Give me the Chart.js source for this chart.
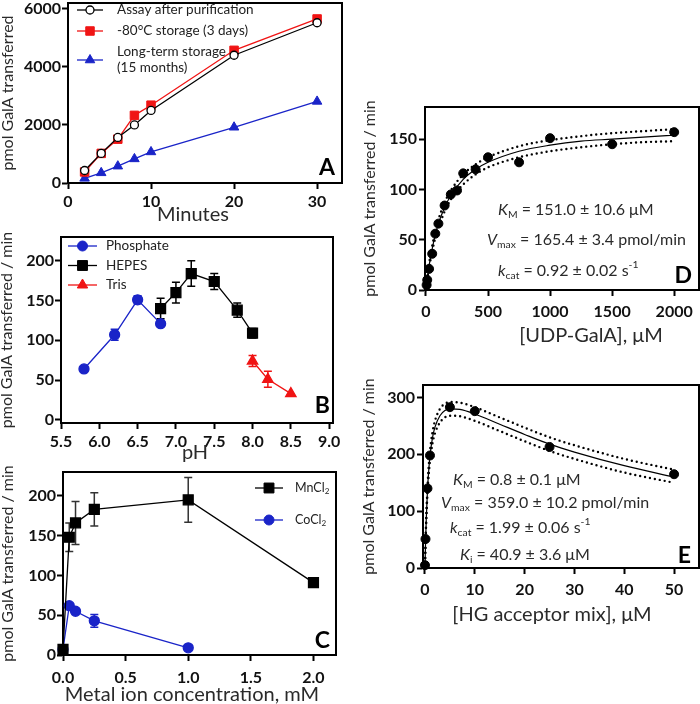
<!DOCTYPE html>
<html>
<head>
<meta charset="utf-8">
<script src="https://cdn.jsdelivr.net/npm/chart.js@4.4.1/dist/chart.umd.min.js"></script>
<style>
  html, body { margin: 0; padding: 0; background: #fff; }
  #wrap { position: relative; width: 700px; height: 704px; overflow: hidden; background: #fff; }
  #wrap canvas { position: absolute; }
</style>
</head>
<body>
<div id="wrap">
  <canvas id="chartA"></canvas>
  <canvas id="chartB"></canvas>
  <canvas id="chartC"></canvas>
  <canvas id="chartD"></canvas>
  <canvas id="chartE"></canvas>
</div>
<script>
// Panel A - time course (minutes vs pmol)
const aMinutes = [2, 4, 6, 8, 10, 20, 30];
const aFresh = [430, 1020, 1570, 2000, 2500, 4400, 5520];
const aFrozen = [380, 1020, 1510, 2330, 2680, 4570, 5650];
const aLongTerm = [160, 350, 580, 830, 1070, 1920, 2810];
const aXTicks = [0, 10, 20, 30];
const aYTicks = [0, 2000, 4000, 6000];

// Panel B - pH profile
const bPhosphatePH = [5.8, 6.2, 6.5, 6.8];
const bPhosphate = [64, 107, 151, 121];
const bPhosphateErr = [2, 7, 5, 2];
const bHepesPH = [6.8, 7.0, 7.2, 7.5, 7.8, 8.0];
const bHepes = [140, 160, 184, 174, 138, 109];
const bHepesErr = [13, 13, 16, 10, 9, 6];
const bTrisPH = [8.0, 8.2, 8.5];
const bTris = [74, 51, 33];
const bTrisErr = [7, 10, 0];
const bXTicks = [5.5, 6.0, 6.5, 7.0, 7.5, 8.0, 8.5, 9.0];
const bYTicks = [0, 50, 100, 150, 200];

// Panel C - metal ions
const cMnConc = [0, 0.05, 0.1, 0.25, 1.0, 2.0];
const cMn = [7, 148, 166, 183, 195, 91];
const cMnErr = [0, 18, 27, 21, 28, 5];
const cCoConc = [0, 0.05, 0.1, 0.25, 1.0];
const cCo = [7, 62, 55, 43, 9];
const cCoErr = [0, 2, 2, 8, 2];
const cXTicks = [0, 0.5, 1.0, 1.5, 2.0];
const cYTicks = [0, 50, 100, 150, 200];

// Panel D - UDP-GalA kinetics
const dConc = [5, 10, 25, 50, 75, 100, 150, 200, 250, 300, 400, 500, 750, 1000, 1500, 2000];
const dRate = [5, 10, 21, 36, 56, 66, 84, 95, 99, 116, 120, 132, 127, 151, 145, 157];
const dFitConc = [0, 10, 25, 50, 75, 100, 150, 200, 300, 400, 500, 750, 1000, 1250, 1500, 1750, 2000];
const dFit = [0, 10, 24, 41, 55, 66, 82, 94, 110, 120, 127, 138, 144, 148, 150, 152, 154];
const dFitHigh = [0, 11, 26, 44, 58, 70, 87, 99, 115, 125, 132, 143, 149, 153, 156, 158, 160];
const dFitLow = [0, 9, 22, 38, 52, 62, 78, 90, 105, 115, 122, 132, 138, 142, 145, 147, 148];
const dXTicks = [0, 500, 1000, 1500, 2000];
const dYTicks = [0, 50, 100, 150];

// Panel E - HG acceptor kinetics
const eConc = [0, 0.1, 0.5, 1, 5, 10, 25, 50];
const eRate = [5, 51, 140, 198, 283, 276, 213, 165];
const eFitConc = [0, 0.1, 0.25, 0.5, 0.75, 1, 1.5, 2, 3, 4, 5, 7, 10, 15, 20, 25, 30, 40, 50];
const eFit = [0, 40, 85, 137, 172, 197, 229, 248, 268, 277, 280, 279, 271, 253, 235, 218, 204, 180, 160];
const eFitHigh = [0, 42, 89, 143, 180, 206, 239, 259, 280, 289, 292, 291, 283, 265, 247, 230, 216, 192, 173];
const eFitLow = [0, 38, 81, 131, 164, 188, 219, 237, 256, 265, 268, 267, 259, 241, 223, 206, 192, 168, 150];
const eXTicks = [0, 10, 20, 30, 40, 50];
const eYTicks = [0, 100, 200, 300];

const BLUE = '#1a24c8', RED = '#f01414';
const tickFont = {family: 'Lato', size: 16, weight: 'bold'};
const yTitleFont = {family: 'Lato', size: 16};

function xy(xs, ys) { return xs.map((x, i) => ({x, y: ys[i]})); }

// text with *italic*, _{sub} and ^{sup}
function parseRich(str) {
  const parts = [];
  let buf = '', italic = false, i = 0;
  const flush = () => { if (buf) parts.push({t: buf, italic, shift: 0}); buf = ''; };
  while (i < str.length) {
    const c = str[i];
    if (c === '*') { flush(); italic = !italic; i++; }
    else if ((c === '_' || c === '^') && str[i + 1] === '{') {
      flush();
      const end = str.indexOf('}', i);
      parts.push({t: str.slice(i + 2, end), italic: false, shift: c === '_' ? 1 : -1});
      i = end + 1;
    } else { buf += c; i++; }
  }
  flush();
  return parts;
}

function drawRich(ctx, str, x, y, o) {
  const size = o.size || 16, wt = o.weight || 'normal';
  const parts = parseRich(str);
  const fontOf = p => (p.italic ? 'italic ' : '') + wt + ' ' + (p.shift ? size * 0.65 : size) + 'px Lato';
  ctx.save();
  ctx.fillStyle = o.color || '#222';
  ctx.textBaseline = o.baseline || 'middle';
  ctx.textAlign = 'left';
  let w = 0;
  parts.forEach(p => { ctx.font = fontOf(p); p.w = ctx.measureText(p.t).width; w += p.w; });
  let cx = o.align === 'center' ? x - w / 2 : o.align === 'right' ? x - w : x;
  parts.forEach(p => {
    ctx.font = fontOf(p);
    const dy = p.shift > 0 ? 0.3 * size : p.shift < 0 ? -0.38 * size : 0;
    ctx.fillText(p.t, cx, y + dy);
    cx += p.w;
  });
  ctx.restore();
}

// box around the plot area
const frame = {
  id: 'frame',
  beforeDatasetsDraw(chart) {
    const a = chart.chartArea, ctx = chart.ctx;
    ctx.save();
    ctx.strokeStyle = '#000';
    ctx.lineWidth = 2;
    ctx.strokeRect(a.left, a.top, a.right - a.left, a.bottom - a.top);
    ctx.restore();
  }
};

// vertical error bars from dataset.errors
const errorBars = {
  id: 'errorBars',
  beforeDatasetsDraw(chart) {
    const ctx = chart.ctx;
    chart.data.datasets.forEach((ds, i) => {
      if (!ds.errors) return;
      const meta = chart.getDatasetMeta(i);
      const ys = chart.scales[meta.yAxisID];
      ctx.save();
      ctx.strokeStyle = ds.errorColor || ds.borderColor;
      ctx.lineWidth = 1.5;
      meta.data.forEach((pt, j) => {
        const e = ds.errors[j];
        if (!e) return;
        const v = ds.data[j].y;
        const top = ys.getPixelForValue(v + e), bot = ys.getPixelForValue(v - e);
        ctx.beginPath();
        ctx.moveTo(pt.x, top); ctx.lineTo(pt.x, bot);
        ctx.moveTo(pt.x - 4, top); ctx.lineTo(pt.x + 4, top);
        ctx.moveTo(pt.x - 4, bot); ctx.lineTo(pt.x + 4, bot);
        ctx.stroke();
      });
      ctx.restore();
    });
  }
};

// legend drawn inside the plot area (line + marker + text)
const insideLegend = {
  id: 'insideLegend',
  afterDraw(chart, args, o) {
    if (o.dx == null) return;
    const ctx = chart.ctx, a = chart.chartArea;
    const x0 = a.left + o.dx;
    let y = a.top + o.dy;
    chart.data.datasets.forEach(ds => {
      if (!ds.label) return;
      const lines = ds.label.split('\n');
      const cy = y + (lines.length - 1) * o.lineH / 2;
      ctx.save();
      ctx.strokeStyle = ds.borderColor;
      ctx.lineWidth = ds.borderWidth;
      ctx.beginPath(); ctx.moveTo(x0, cy); ctx.lineTo(x0 + o.sample, cy); ctx.stroke();
      ctx.fillStyle = ds.pointBackgroundColor || ds.borderColor;
      ctx.strokeStyle = ds.pointBorderColor || ds.borderColor;
      ctx.lineWidth = ds.pointBorderWidth || 1;
      const px = x0 + o.sample / 2;
      if (Chart.helpers && Chart.helpers.drawPoint) {
        Chart.helpers.drawPoint(ctx, {pointStyle: ds.pointStyle, radius: ds.pointRadius, rotation: 0, borderWidth: ctx.lineWidth}, px, cy);
      } else {
        ctx.beginPath(); ctx.arc(px, cy, ds.pointRadius, 0, Math.PI * 2); ctx.fill(); ctx.stroke();
      }
      ctx.restore();
      lines.forEach((ln, k) => drawRich(ctx, ln, x0 + o.sample + o.gap, y + k * o.lineH, {size: o.size, color: '#222'}));
      y += o.rowH + (lines.length - 1) * o.lineH;
    });
  }
};

// free texts: axis titles, fit parameters, panel letters
const panelText = {
  id: 'panelText',
  afterDraw(chart, args, o) {
    const a = chart.chartArea, ctx = chart.ctx;
    (o.items || []).forEach(it => {
      const x = (it.from[1] === 'l' ? a.left : a.right) + it.dx;
      const y = (it.from[0] === 't' ? a.top : a.bottom) + it.dy;
      drawRich(ctx, it.text, x, y, it);
    });
  }
};

function axis(spec, size) {
  return {
    type: 'linear', min: spec.min, max: spec.max,
    afterBuildTicks: s => { s.ticks = spec.ticks.map(v => ({value: v})); },
    afterFit: s => {
      if (s.isHorizontal()) s.height = size; else s.width = size;
      s.paddingTop = s.paddingBottom = s.paddingLeft = s.paddingRight = 0;
    },
    border: {display: true, color: '#000', width: 2},
    grid: {display: true, drawOnChartArea: false, drawTicks: true, tickLength: 6, tickWidth: 2, tickColor: '#000'},
    ticks: {color: '#111', font: tickFont, padding: spec.pad, autoSkip: false, maxRotation: 0,
      callback: v => spec.dec ? v.toFixed(spec.dec) : String(v)},
    title: {display: !!spec.title, text: spec.title || '', font: yTitleFont, color: '#2a2a2a', padding: 0}
  };
}

function makeChart(id, box, area, spec) {
  const cv = document.getElementById(id);
  cv.width = box.w; cv.height = box.h;
  cv.style.left = box.x + 'px'; cv.style.top = box.y + 'px';
  return new Chart(cv, {
    type: 'scatter',
    data: {datasets: spec.datasets.map(d => Object.assign({clip: false}, d))},
    options: {
      responsive: false, animation: false, events: [],
      layout: {autoPadding: false, padding: {left: 0, top: area.t - box.y, right: box.x + box.w - area.r, bottom: 0}},
      scales: {
        x: axis(spec.x, box.y + box.h - area.b),
        y: axis(spec.y, area.l - box.x)
      },
      plugins: {
        legend: {display: false}, tooltip: {enabled: false},
        insideLegend: spec.legend || {},
        panelText: {items: spec.texts || []}
      }
    },
    plugins: [frame, errorBars, insideLegend, panelText]
  });
}

const yTitle = 'pmol GalA transferred / min';
const letter = (t, dx, dy) => ({text: t, from: 'br', dx, dy, size: 23, weight: 'bold', align: 'right', baseline: 'alphabetic', color: '#000'});
const xTitle = (t, dx, dy) => ({text: t, from: 'bl', dx, dy, size: 20, align: 'center', color: '#2a2a2a'});
const fitText = (t, dx, dy) => ({text: t, from: 'tl', dx, dy, size: 16, color: '#2a2a2a'});

// A
makeChart('chartA', {x: -2, y: 0, w: 352, h: 232}, {l: 68, t: 3, r: 342, b: 183}, {
  x: {min: 0, max: 33, ticks: aXTicks, pad: 3},
  y: {min: 0, max: 6200, ticks: aYTicks, pad: 1, title: 'pmol GalA transferred'},
  datasets: [
    {label: 'Assay after purification', data: xy(aMinutes, aFresh), showLine: true, borderColor: '#000', borderWidth: 1.3,
      pointStyle: 'circle', pointRadius: 4, pointBackgroundColor: '#fff', pointBorderColor: '#000', pointBorderWidth: 1.3},
    {label: '-80°C storage (3 days)', data: xy(aMinutes, aFrozen), showLine: true, borderColor: RED, borderWidth: 1.3,
      pointStyle: 'rect', pointRadius: 6, pointBackgroundColor: RED, pointBorderColor: RED, pointBorderWidth: 1},
    {label: 'Long-term storage\n(15 months)', data: xy(aMinutes, aLongTerm), showLine: true, borderColor: BLUE, borderWidth: 1.3,
      pointStyle: 'triangle', pointRadius: 5.5, pointBackgroundColor: BLUE, pointBorderColor: BLUE, pointBorderWidth: 1}
  ],
  legend: {dx: 9, dy: 7, sample: 26, gap: 14, rowH: 21, lineH: 16, size: 13.5},
  texts: [xTitle('Minutes', 125, 32), letter('A', -7, -8)]
});

// B
makeChart('chartB', {x: -3, y: 222, w: 348, h: 248}, {l: 61, t: 237, r: 333, b: 423}, {
  x: {min: 5.5, max: 9.05, ticks: bXTicks, pad: 3, dec: 1},
  y: {min: -4, max: 230, ticks: bYTicks, pad: 1, title: yTitle},
  datasets: [
    {label: 'Phosphate', data: xy(bPhosphatePH, bPhosphate), errors: bPhosphateErr, showLine: true, borderColor: BLUE, borderWidth: 1.3,
      pointStyle: 'circle', pointRadius: 5, pointBackgroundColor: BLUE, pointBorderColor: BLUE},
    {label: 'HEPES', data: xy(bHepesPH, bHepes), errors: bHepesErr, showLine: true, borderColor: '#000', borderWidth: 1.3,
      pointStyle: 'rect', pointRadius: 7, pointBackgroundColor: '#000', pointBorderColor: '#000'},
    {label: 'Tris', data: xy(bTrisPH, bTris), errors: bTrisErr, showLine: true, borderColor: RED, borderWidth: 1.3,
      pointStyle: 'triangle', pointRadius: 6, pointBackgroundColor: RED, pointBorderColor: RED}
  ],
  legend: {dx: 7, dy: 9, sample: 29, gap: 9, rowH: 19.5, lineH: 16, size: 13.5},
  texts: [xTitle('pH', 134, 30), letter('B', -3, -10)]
});

// C
makeChart('chartC', {x: -2, y: 460, w: 347, h: 248}, {l: 63, t: 472, r: 336, b: 655}, {
  x: {min: 0, max: 2.18, ticks: cXTicks, pad: 7, dec: 1},
  y: {min: 0, max: 230, ticks: cYTicks, pad: 1, title: yTitle},
  datasets: [
    {label: 'MnCl_{2}', data: xy(cMnConc, cMn), errors: cMnErr, errorColor: '#333', showLine: true, borderColor: '#000', borderWidth: 1.3,
      pointStyle: 'rect', pointRadius: 7, pointBackgroundColor: '#000', pointBorderColor: '#000'},
    {label: 'CoCl_{2}', data: xy(cCoConc, cCo), errors: cCoErr, showLine: true, borderColor: BLUE, borderWidth: 1.3,
      pointStyle: 'circle', pointRadius: 5, pointBackgroundColor: BLUE, pointBorderColor: BLUE}
  ],
  legend: {dx: 192, dy: 16, sample: 28, gap: 12, rowH: 32, lineH: 16, size: 12.5},
  texts: [xTitle('Metal ion concentration, mM', 129, 40), letter('C', -6, -7)]
});

const fitLine = (xs, ys) => ({data: xy(xs, ys), showLine: true, borderColor: '#000', borderWidth: 1.2, pointRadius: 0, cubicInterpolationMode: 'monotone'});
const bandLine = (xs, ys) => ({data: xy(xs, ys), showLine: true, borderColor: '#000', borderWidth: 2.4, borderDash: [0, 5], borderCapStyle: 'round', pointRadius: 0, cubicInterpolationMode: 'monotone'});
const dots = (xs, ys) => ({data: xy(xs, ys), showLine: false, pointStyle: 'circle', pointRadius: 4.5, pointBackgroundColor: '#000', pointBorderColor: '#000', borderColor: '#000'});

// D
makeChart('chartD', {x: 360, y: 92, w: 342, h: 262}, {l: 425, t: 107, r: 699, b: 290}, {
  x: {min: -8, max: 2200, ticks: dXTicks, pad: 6},
  y: {min: 0, max: 182, ticks: dYTicks, pad: 2, title: yTitle},
  datasets: [dots(dConc, dRate), fitLine(dFitConc, dFit), bandLine(dFitConc, dFitHigh), bandLine(dFitConc, dFitLow)],
  texts: [
    fitText('*K*_{M} = 151.0 ± 10.6 μM', 73, 103),
    fitText('*V*_{max} = 165.4 ± 3.4 pmol/min', 62, 133),
    fitText('*k*_{cat} = 0.92 ± 0.02 s^{-1}', 73, 164),
    xTitle('[UDP-GalA], μM', 166, 46),
    letter('D', -7, -7)
  ]
});

// E
makeChart('chartE', {x: 359, y: 372, w: 343, h: 268}, {l: 423, t: 385, r: 699, b: 568}, {
  x: {min: -0.4, max: 55, ticks: eXTicks, pad: 6},
  y: {min: 0, max: 322, ticks: eYTicks, pad: 2, title: yTitle},
  datasets: [dots(eConc, eRate), fitLine(eFitConc, eFit), bandLine(eFitConc, eFitHigh), bandLine(eFitConc, eFitLow)],
  texts: [
    fitText('*K*_{M} = 0.8 ± 0.1 μM', 30, 95),
    fitText('*V*_{max} = 359.0 ± 10.2 pmol/min', 18, 118),
    fitText('*k*_{cat} = 1.99 ± 0.06 s^{-1}', 27, 143),
    fitText('*K*_{i} = 40.9 ± 3.6 μM', 37, 170),
    xTitle('[HG acceptor mix], μM', 129, 47),
    letter('E', -8, -5)
  ]
});
</script>
</body>
</html>
